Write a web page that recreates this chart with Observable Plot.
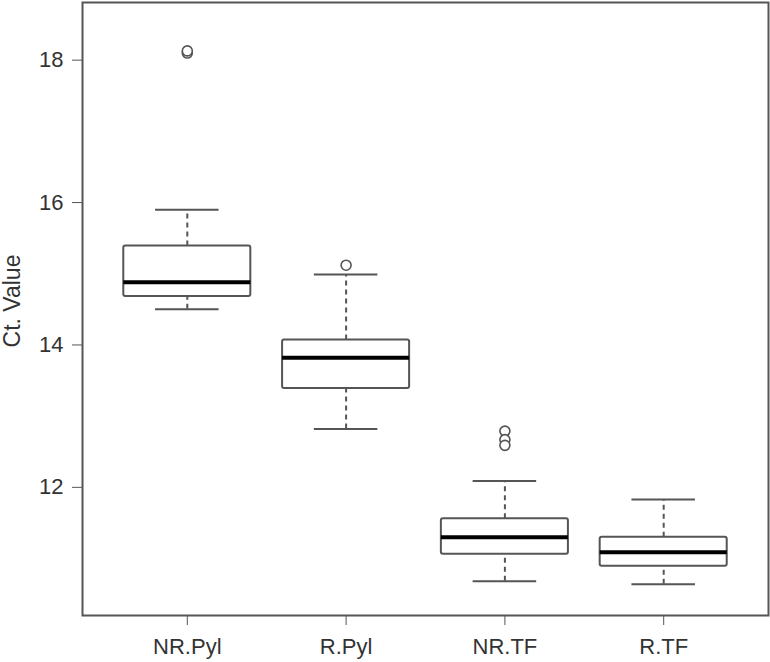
<!DOCTYPE html>
<html>
<head>
<meta charset="utf-8">
<script src="https://cdn.jsdelivr.net/npm/d3@7"></script>
<script src="https://cdn.jsdelivr.net/npm/@observablehq/plot@0.6"></script>
<style>
  body { margin: 0; background: #fff; }
</style>
</head>
<body>
<div id="chart"></div>
<script>
const groups = ["NR.Pyl", "R.Pyl", "NR.TF", "R.TF"];
const lowerWhisker = [14.50, 12.82, 10.68, 10.64];
const q1 = [14.68, 13.39, 11.06, 10.89];
const median = [14.88, 13.82, 11.30, 11.09];
const q3 = [15.39, 14.07, 11.56, 11.30];
const upperWhisker = [15.90, 14.99, 12.09, 11.83];
const outlierGroup = ["NR.Pyl", "NR.Pyl", "R.Pyl", "NR.TF", "NR.TF", "NR.TF"];
const outlierValue = [18.10, 18.13, 15.12, 12.79, 12.67, 12.59];
const yTicks = [12, 14, 16, 18];
const yLabel = "Ct. Value";

const stats = groups.map((g, k) => ({
  g, i: k + 1,
  lo: lowerWhisker[k], q1: q1[k], med: median[k], q3: q3[k], hi: upperWhisker[k]
}));
const outliers = outlierGroup.map((g, k) => ({i: groups.indexOf(g) + 1, v: outlierValue[k]}));

const half = 0.4, cap = 0.2;
const gray = "#555";
const font = "'Liberation Sans', Arial, sans-serif";

const chart = Plot.plot({
  width: 770,
  height: 662,
  marginLeft: 82,
  marginRight: 2,
  marginTop: 2,
  marginBottom: 47,
  style: {fontSize: "22px", fontFamily: font, color: "#333", background: "#fff"},
  x: {type: "linear", domain: [0.34, 4.66]},
  y: {domain: [10.20, 18.81]},
  marks: [
    Plot.ruleX(stats, {x: "i", y1: "q3", y2: "hi", stroke: gray, strokeWidth: 2, strokeDasharray: "5,4"}),
    Plot.ruleX(stats, {x: "i", y1: "lo", y2: "q1", stroke: gray, strokeWidth: 2, strokeDasharray: "5,4"}),
    Plot.ruleY(stats, {y: "hi", x1: d => d.i - cap, x2: d => d.i + cap, stroke: gray, strokeWidth: 2}),
    Plot.ruleY(stats, {y: "lo", x1: d => d.i - cap, x2: d => d.i + cap, stroke: gray, strokeWidth: 2}),
    Plot.rect(stats, {x1: d => d.i - half, x2: d => d.i + half, y1: "q1", y2: "q3", fill: "white", stroke: gray, strokeWidth: 2, rx: 2}),
    Plot.ruleY(stats, {y: "med", x1: d => d.i - half, x2: d => d.i + half, stroke: "#000", strokeWidth: 4}),
    Plot.dot(outliers, {x: "i", y: "v", r: 5, stroke: gray, strokeWidth: 1.6, fill: "white"}),
    Plot.frame({stroke: gray, strokeWidth: 2}),
    Plot.axisY({ticks: yTicks, tickSize: 10, tickPadding: 9, label: null, stroke: gray, fontSize: 22, fill: "#333"}),
    Plot.axisX({ticks: [1, 2, 3, 4], tickFormat: i => groups[i - 1], tickSize: 10, tickPadding: 13, label: null, stroke: gray, fontSize: 22, fill: "#333"}),
    Plot.text([yLabel], {text: d => d, frameAnchor: "left", textAnchor: "middle", dx: -70, dy: -8, rotate: -90, fill: "#333", fontSize: 23, fontFamily: font})
  ]
});
document.getElementById("chart").appendChild(chart);
</script>
</body>
</html>
